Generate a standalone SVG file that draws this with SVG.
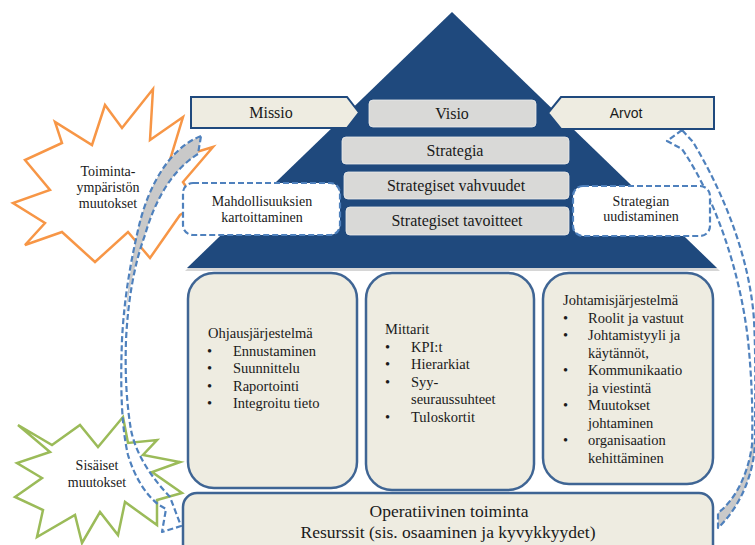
<svg xmlns="http://www.w3.org/2000/svg" width="755" height="545" viewBox="0 0 755 545">
  <style>
    .serif { font-family: "Liberation Serif", "Times New Roman", serif; fill: #1a1a1a; }
    .sans { font-family: "Liberation Sans", Arial, sans-serif; fill: #1a1a1a; }
    .star-o { fill: #ffffff; stroke: #F79646; stroke-width: 2.5; stroke-linejoin: miter; }
    .star-g { fill: #ffffff; stroke: #9BBB59; stroke-width: 2.5; stroke-linejoin: miter; }
    .dash { fill: #ffffff; stroke: #4F81BD; stroke-width: 2.2; stroke-dasharray: 6 3; }
    .loop { fill: none; stroke: #4F81BD; stroke-width: 2.2; stroke-dasharray: 6 3; stroke-linejoin: round; }
    .loop-back { fill: #C9C9C9; stroke: none; }
    .tab { fill: #EEECE1; stroke: #1F497D; stroke-width: 2; }
    .level { fill: #D9D9D7; stroke: #ECECEC; stroke-width: 0.8; }
    .pillar { fill: #EEECE1; stroke: #3F6594; stroke-width: 2.5; }
    .t15 { font-size: 16px; }
    .t14 { font-size: 14px; }
    .t145 { font-size: 14.5px; }
    .t17 { font-size: 17.5px; }
  </style>

  <!-- change drivers (starbursts) -->
  <g id="toimintaymparisto">
    <polygon class="star-o" points="153,89 150,140 183,117 170,160 213,147 183,182 198,205 180,215 150,258 128,232 95,262 62,232 25,245 45,223 13,203 50,190 25,160 62,143 55,122 92,145 105,105 122,128"/>
    <text class="serif t14" text-anchor="middle" x="108" y="176">Toiminta-</text>
    <text class="serif t14" text-anchor="middle" x="108" y="192">ympäristön</text>
    <text class="serif t14" text-anchor="middle" x="108" y="208">muutokset</text>
  </g>
  <g id="sisaiset">
    <polygon class="star-g" points="18,425 52,445 80,425 98,447 123,417 128,443 157,440 143,455 180,462 152,472 182,493 157,500 157,525 125,502 118,535 100,512 82,543 75,515 37,537 43,510 15,497 42,478 17,463 50,452"/>
    <text class="serif t14" text-anchor="middle" x="97" y="470">Sisäiset</text>
    <text class="serif t14" text-anchor="middle" x="97" y="487">muutokset</text>
  </g>

  <!-- feedback loops -->
  <g id="connectors">
    <path class="loop-back" d="M201,136 C170,148 148,185 138,230 C131,262 126,300 124,335 C126,300 134,265 145,235 C155,200 172,170 198,154 Z"/>
    <path class="loop" d="M201,136 C170,148 148,185 138,230 C130,265 124,300 122,340 C120,390 122,430 128,455 C135,478 146,495 159,505 L166,509 L162,532 L181,526 L170,497 C152,478 136,455 131,430 C126,400 125,370 126,340 C128,300 134,265 145,235 C155,200 172,170 198,154 Z"/>
    <path class="loop-back" d="M752,445 C748,475 735,500 718,513 L718,528 C742,505 755,470 755,440 Z"/>
    <path class="loop" d="M682,130 L667,141 L682,149 L686,155 C715,200 740,270 748,340 C752,380 753,415 752,445 C748,475 735,500 718,513 L718,528 C742,505 755,470 755,440 C755,400 756,360 754,320 C750,260 725,195 693,142 Z"/>
  </g>

  <!-- strategy pyramid -->
  <g id="pyramidi">
    <polygon points="452,14 720,271 185,271" fill="#D6D6D6"/>
    <polygon points="452,12 717,268 187,268" fill="#1F497D"/>
  </g>

  <g id="missio">
    <polygon class="tab" points="191,97 347,97 359,112.5 347,128 191,128"/>
    <text class="serif t15" text-anchor="middle" x="271" y="118">Missio</text>
  </g>
  <g id="arvot">
    <polygon class="tab" points="561,97 714,97 714,129 561,129 548,113"/>
    <text class="sans t14" text-anchor="middle" x="626" y="118">Arvot</text>
  </g>

  <g id="visio">
    <rect class="level" x="369" y="100" width="167" height="27" rx="4"/>
    <text class="serif t15" text-anchor="middle" x="452" y="119">Visio</text>
  </g>
  <g id="strategia">
    <rect class="level" x="342" y="137" width="227" height="27" rx="4"/>
    <text class="serif t15" text-anchor="middle" x="455" y="156">Strategia</text>
  </g>
  <g id="vahvuudet">
    <rect class="level" x="344" y="172" width="225" height="27" rx="4"/>
    <text class="serif t15" text-anchor="middle" x="456" y="191">Strategiset vahvuudet</text>
  </g>
  <g id="tavoitteet">
    <rect class="level" x="346" y="207" width="223" height="28" rx="4"/>
    <text class="serif t15" text-anchor="middle" x="457" y="226">Strategiset tavoitteet</text>
  </g>

  <g id="mahdollisuudet">
    <rect class="dash" x="183" y="183" width="157" height="52" rx="10"/>
    <text class="serif t14" text-anchor="middle" x="262" y="206">Mahdollisuuksien</text>
    <text class="serif t14" text-anchor="middle" x="262" y="222">kartoittaminen</text>
  </g>
  <g id="uudistaminen">
    <rect class="dash" x="573" y="186" width="137" height="50" rx="10"/>
    <text class="serif t14" text-anchor="middle" x="641" y="206">Strategian</text>
    <text class="serif t14" text-anchor="middle" x="641" y="221">uudistaminen</text>
  </g>

  <!-- management system pillars -->
  <g id="ohjausjarjestelma">
    <rect class="pillar" x="188" y="273" width="169" height="215" rx="26"/>
    <g class="serif t145">
      <text x="208" y="338">Ohjausjärjestelmä</text>
      <text x="207" y="355.5">•</text><text x="233" y="355.5">Ennustaminen</text>
      <text x="207" y="373">•</text><text x="233" y="373">Suunnittelu</text>
      <text x="207" y="390.5">•</text><text x="233" y="390.5">Raportointi</text>
      <text x="207" y="408">•</text><text x="233" y="408">Integroitu tieto</text>
    </g>
  </g>
  <g id="mittarit">
    <rect class="pillar" x="366" y="273" width="168" height="217" rx="26"/>
    <g class="serif t145">
      <text x="385" y="334">Mittarit</text>
      <text x="385" y="351.5">•</text><text x="411" y="351.5">KPI:t</text>
      <text x="385" y="369">•</text><text x="411" y="369">Hierarkiat</text>
      <text x="385" y="386.5">•</text><text x="411" y="386.5">Syy-</text>
      <text x="411" y="404">seuraussuhteet</text>
      <text x="385" y="421.5">•</text><text x="411" y="421.5">Tuloskortit</text>
    </g>
  </g>
  <g id="johtamisjarjestelma">
    <rect class="pillar" x="543" y="273" width="170" height="211" rx="26"/>
    <g class="serif t145">
      <text x="563" y="305">Johtamisjärjestelmä</text>
      <text x="563" y="322.5">•</text><text x="588" y="322.5">Roolit ja vastuut</text>
      <text x="563" y="340">•</text><text x="588" y="340">Johtamistyyli ja</text>
      <text x="588" y="357.5">käytännöt,</text>
      <text x="563" y="375">•</text><text x="588" y="375">Kommunikaatio</text>
      <text x="588" y="392.5">ja viestintä</text>
      <text x="563" y="410">•</text><text x="588" y="410">Muutokset</text>
      <text x="588" y="427.5">johtaminen</text>
      <text x="563" y="445">•</text><text x="588" y="445">organisaation</text>
      <text x="588" y="462.5">kehittäminen</text>
    </g>
  </g>

  <g id="operatiivinen">
    <rect class="pillar" x="183" y="493" width="530" height="70" rx="14"/>
    <text class="serif t17" text-anchor="middle" x="449" y="517">Operatiivinen toiminta</text>
    <text class="serif t17" text-anchor="middle" x="448" y="538">Resurssit (sis. osaaminen ja kyvykkyydet)</text>
  </g>
</svg>
